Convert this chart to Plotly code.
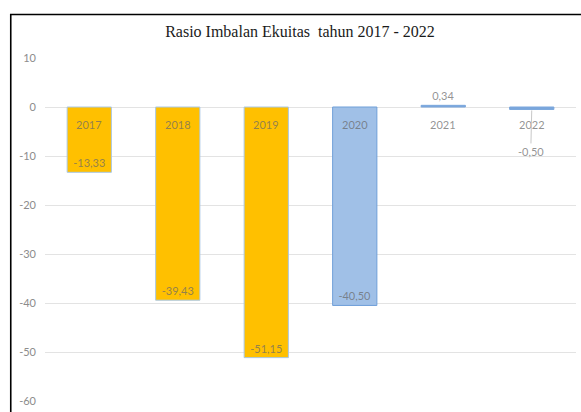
import plotly.graph_objects as go

years = ["2017", "2018", "2019", "2020", "2021", "2022"]
roe = [-13.33, -39.43, -51.15, -40.50, 0.34, -0.50]
bar_colors = ["#FFC000", "#FFC000", "#FFC000", "#A0C0E7", "#7AA6DC", "#7AA6DC"]
line_colors = ["#A9C8E6", "#A9C8E6", "#A9C8E6", "#6F9FD8", "#7AA6DC", "#7AA6DC"]
label_pos = ["inside", "inside", "inside", "inside", "outside", "none"]
y_ticks = [10, 0, -10, -20, -30, -40, -50, -60]
title_text = "Rasio Imbalan Ekuitas \u00a0tahun 2017 - 2022"

label_font = "Lato, Carlito, 'Liberation Sans', sans-serif"
label_color = "rgba(105,105,105,0.72)"

fig = go.Figure()
fig.add_trace(go.Bar(
    x=years, y=roe,
    marker=dict(color=bar_colors, line=dict(color=line_colors, width=1)),
    texttemplate="%{y:.2f}",
    textposition=label_pos,
    insidetextanchor="end",
    textangle=0,
    constraintext="none",
    cliponaxis=False,
    textfont=dict(family=label_font, size=11, color=label_color),
    hoverinfo="skip",
))

# category labels next to the zero line (category index positions)
for i, yr in enumerate(years):
    fig.add_annotation(x=i, y=0, text=yr, showarrow=False, yanchor="top", yshift=-9,
                       font=dict(family=label_font, size=11, color=label_color))

# 2022 label with leader line
fig.add_annotation(x=len(years) - 1, y=roe[5], text="-0,50", showarrow=True, arrowhead=0,
                   arrowwidth=1, arrowcolor="#C8C8C8", ax=-1, ay=42, standoff=1,
                   font=dict(family=label_font, size=11, color=label_color))

# outer frame (left and top edges visible)
fig.add_shape(type="rect", xref="paper", yref="paper", x0=-0.0645, x1=1.2, y0=-0.2, y1=1.127,
              line=dict(color="black", width=1.6), fillcolor="rgba(0,0,0,0)", layer="above")

fig.update_layout(
    width=581, height=412,
    margin=dict(l=45, r=5, t=58, b=6),
    paper_bgcolor="white", plot_bgcolor="white",
    separators=",.",
    bargap=0.5,
    showlegend=False,
    title=dict(text=title_text, x=300 / 581, xanchor="center", y=1 - 31 / 412, yanchor="middle",
               font=dict(family="'Liberation Serif', 'Times New Roman', serif", size=16, color="#1a1a1a")),
    xaxis=dict(type="category", range=[-0.5, len(years) - 0.5], showticklabels=False,
               showgrid=False, zeroline=False, showline=False, ticks=""),
    yaxis=dict(range=[-60, 10], tickvals=y_ticks, ticktext=[str(v) for v in y_ticks],
               showgrid=True, gridcolor="#E3E3E3", gridwidth=1,
               zeroline=True, zerolinecolor="#E3E3E3", zerolinewidth=1,
               showline=False, ticks="", ticklabelstandoff=8,
               tickfont=dict(family=label_font, size=11, color="#8C8C8C")),
)

fig.write_html("out.html")
